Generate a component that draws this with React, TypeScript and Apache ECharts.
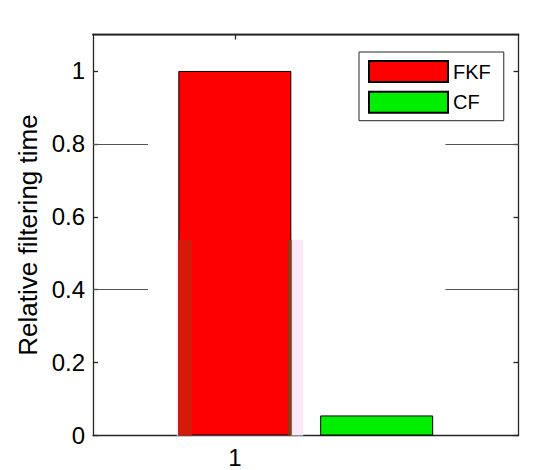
import React, { useEffect, useRef } from "react";
import * as echarts from "echarts";

const seriesNames = ["FKF", "CF"];
const xPositions = [1, 1.5];
const values = [1.0, 0.055];
const xTickValues = [1];
const yTickValues = [0, 0.2, 0.4, 0.6, 0.8, 1];
const yMax = 1.1;
const xMin = 0.5;
const xMax = 2;
// rendering artefacts in the reference (data coordinates)
const pinkArea = [[0.795, 0], [1.241, 0.537]];
const darkStrips = [
  [[0.8, 0], [0.849, 0.537]],
  [[1.188, 0], [1.2, 0.537]],
];
const stubLines = [
  [[0.5, 0.8], [0.694, 0.8]],
  [[0.5, 0.4], [0.694, 0.4]],
  [[1.7425, 0.8], [2, 0.8]],
  [[1.7425, 0.4], [2, 0.4]],
];

const FONT = "'Liberation Sans', Arial, sans-serif";
const AX = "#262626";

export default function App() {
  const ref = useRef<HTMLDivElement>(null);
  useEffect(() => {
    document.body.style.margin = "0";
    const chart = echarts.init(ref.current!, undefined, { renderer: "svg" });
    const tickStyle = { color: AX, width: 1.3 };
    chart.setOption({
      animation: false,
      backgroundColor: "#fff",
      textStyle: { fontFamily: FONT },
      grid: { left: 93, right: 31.5, top: 34.5, bottom: 34.5 },
      legend: {
        data: seriesNames,
        orient: "vertical",
        left: 359,
        top: 52,
        icon: "rect",
        itemWidth: 79,
        itemHeight: 21,
        itemGap: 7.7,
        padding: [8, 13, 7, 9],
        borderColor: AX,
        borderWidth: 1,
        textStyle: { fontSize: 20, color: "#000", fontFamily: FONT },
        selectedMode: false,
      },
      xAxis: [
        {
          type: "value",
          min: xMin,
          max: xMax,
          position: "bottom",
          axisLine: { show: true, onZero: false, lineStyle: tickStyle },
          axisTick: { show: true, inside: true, length: 5, customValues: xTickValues, lineStyle: tickStyle },
          splitLine: { show: false },
          axisLabel: { show: true, customValues: xTickValues, fontSize: 24, color: "#000", margin: 10, fontFamily: FONT },
        },
        {
          type: "value",
          min: xMin,
          max: xMax,
          position: "top",
          axisLine: { show: true, onZero: false, lineStyle: tickStyle },
          axisTick: { show: true, inside: true, length: 5, customValues: xTickValues, lineStyle: tickStyle },
          splitLine: { show: false },
          axisLabel: { show: false },
        },
      ],
      yAxis: [
        {
          type: "value",
          min: 0,
          max: yMax,
          position: "left",
          name: "Relative filtering time",
          nameLocation: "middle",
          nameGap: 47,
          nameTextStyle: { fontSize: 26, color: "#000", fontFamily: FONT },
          axisLine: { show: true, onZero: false, lineStyle: tickStyle },
          axisTick: { show: true, inside: true, length: 5, customValues: yTickValues, lineStyle: tickStyle },
          splitLine: { show: false },
          axisLabel: { show: true, customValues: yTickValues, fontSize: 24, color: "#000", margin: 8, fontFamily: FONT },
        },
        {
          type: "value",
          min: 0,
          max: yMax,
          position: "right",
          axisLine: { show: true, onZero: false, lineStyle: tickStyle },
          axisTick: { show: true, inside: true, length: 5, customValues: yTickValues, lineStyle: tickStyle },
          splitLine: { show: false },
          axisLabel: { show: false },
        },
      ],
      series: [
        {
          name: seriesNames[0],
          type: "bar",
          xAxisIndex: 0,
          yAxisIndex: 0,
          barWidth: 113,
          barGap: "-100%",
          data: [[xPositions[0], values[0]]],
          itemStyle: { color: "#ff0000", borderColor: "#000", borderWidth: 1 },
          markArea: {
            silent: true,
            itemStyle: { color: "#fde8fa" },
            data: [[{ coord: pinkArea[0] }, { coord: pinkArea[1] }]],
          },
        },
        {
          name: seriesNames[1],
          type: "bar",
          xAxisIndex: 0,
          yAxisIndex: 0,
          barWidth: 113,
          barGap: "-100%",
          data: [[xPositions[1], values[1]]],
          itemStyle: { color: "#00ee00", borderColor: "#000", borderWidth: 1 },
        },
        {
          name: "artefacts",
          type: "line",
          xAxisIndex: 0,
          yAxisIndex: 0,
          data: [],
          silent: true,
          markArea: {
            silent: true,
            z: 3,
            itemStyle: { color: "#d41a0a" },
            data: darkStrips.map((s, i) => [
              { coord: s[0], itemStyle: { color: i === 0 ? "#d41a0a" : "#8a3a14" } },
              { coord: s[1] },
            ]),
          },
          markLine: {
            silent: true,
            symbol: "none",
            label: { show: false },
            lineStyle: { color: "#555", width: 1, type: "solid" },
            data: stubLines.map((l) => [{ coord: l[0] }, { coord: l[1] }]),
          },
        },
      ],
    });
    // top frame edge, positioned through the chart's own scales
    const [xl, yt] = chart.convertToPixel({ xAxisIndex: 0, yAxisIndex: 0 }, [xMin, yMax]) as number[];
    const [xr] = chart.convertToPixel({ xAxisIndex: 0, yAxisIndex: 0 }, [xMax, yMax]) as number[];
    chart.setOption({
      graphic: [
        {
          type: "rect",
          z: 1000,
          silent: true,
          shape: { x: xl - 0.65, y: yt - 0.65, width: xr - xl + 1.3, height: 1.6 },
          style: { fill: AX },
        },
      ],
    });
    return () => chart.dispose();
  }, []);
  return <div ref={ref} style={{ width: 550, height: 470 }} />;
}
